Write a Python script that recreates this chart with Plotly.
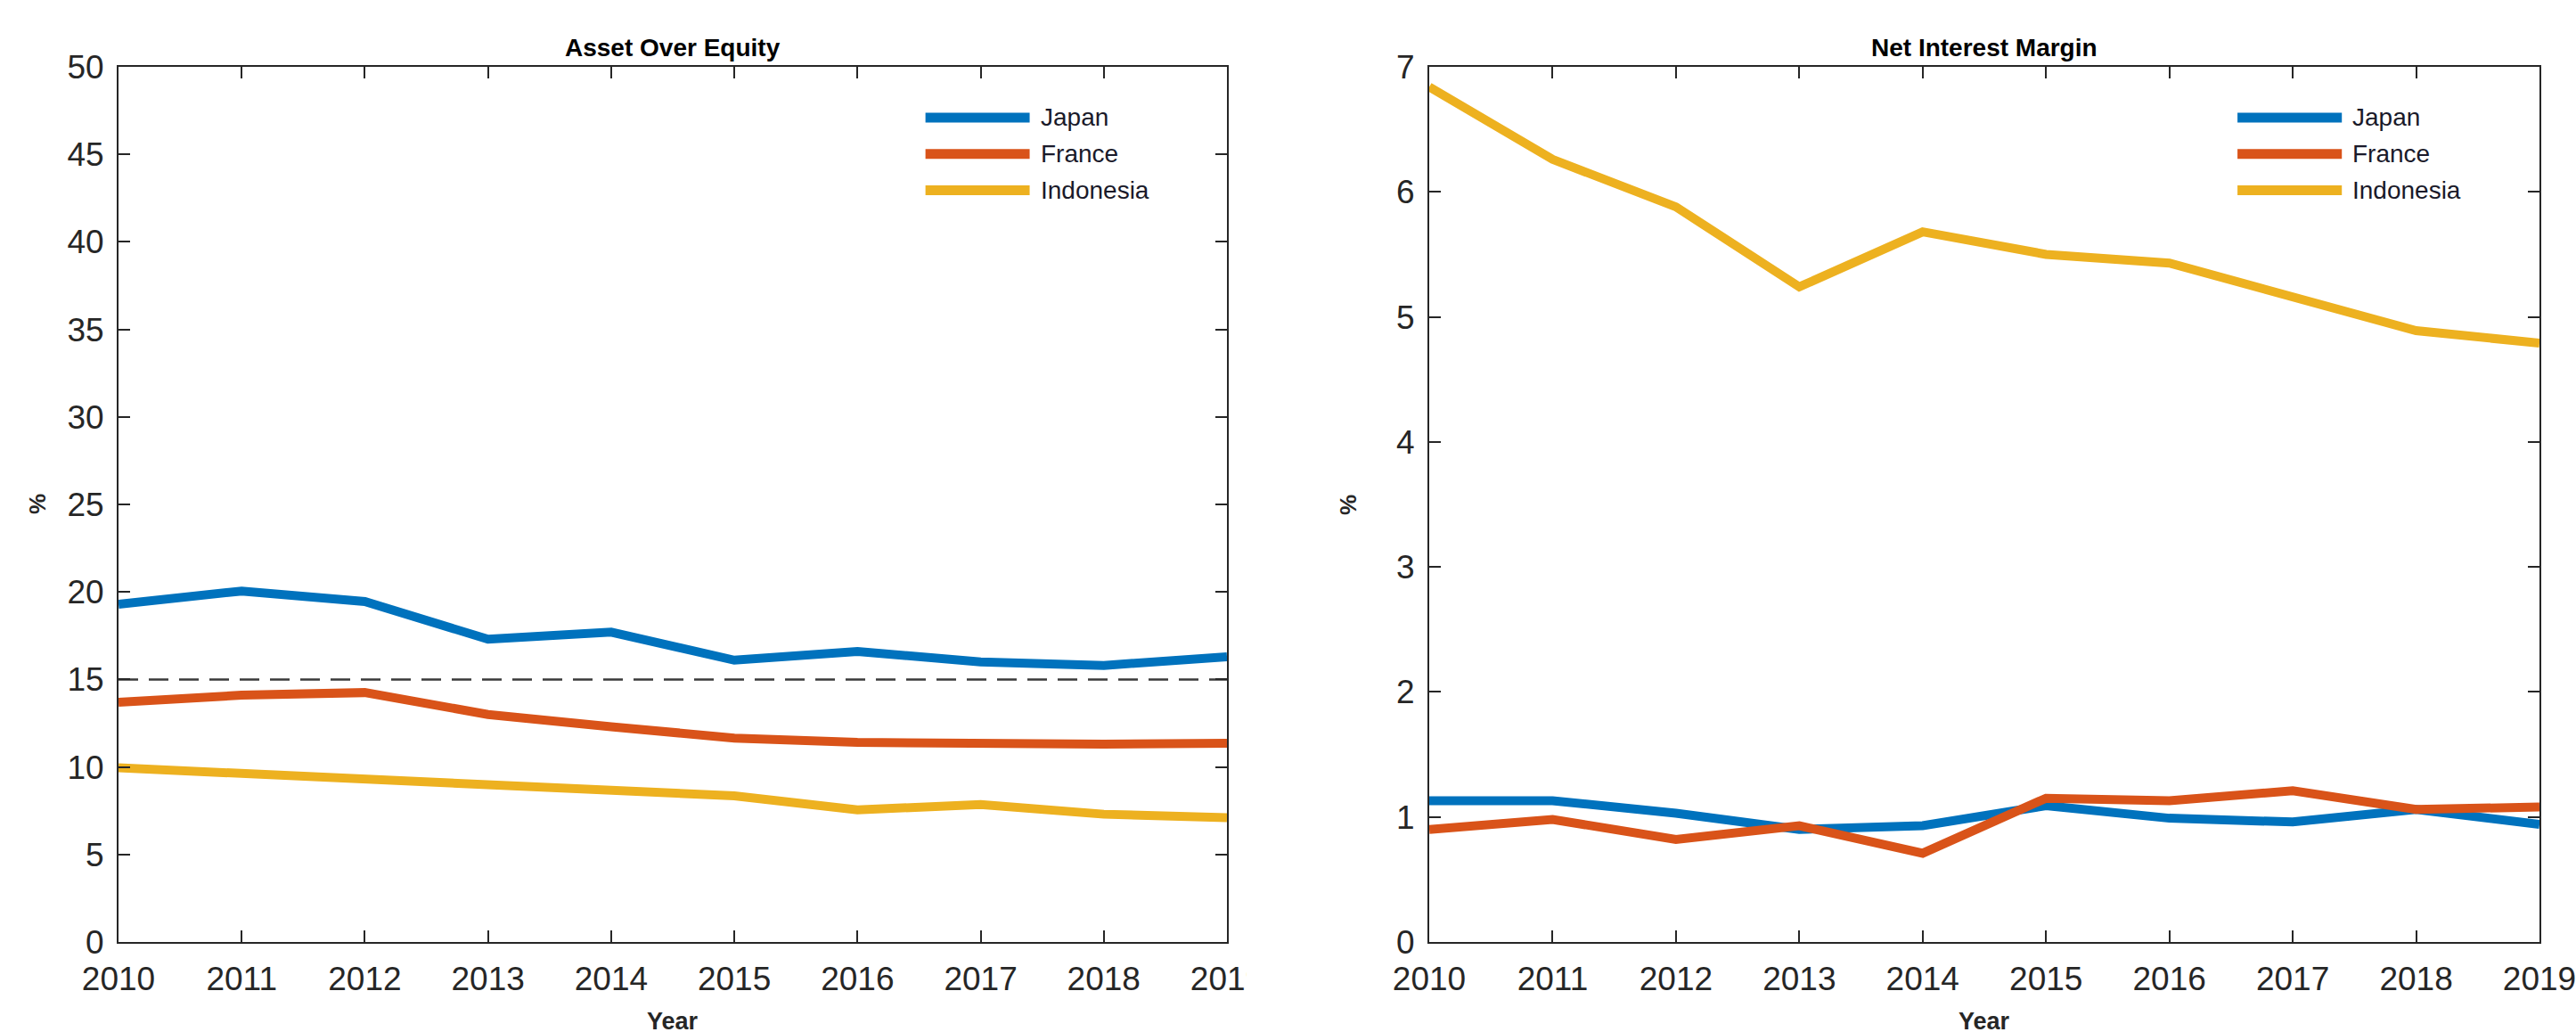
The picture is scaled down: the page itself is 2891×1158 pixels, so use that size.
import plotly.graph_objects as go

# ---- data -------------------------------------------------------------
years = [2010, 2011, 2012, 2013, 2014, 2015, 2016, 2017, 2018, 2019]
countries = ["Japan", "France", "Indonesia"]
colors = ["#0072BD", "#D95319", "#EDB120"]

# Asset over equity (%)
aoe_japan = [19.3, 20.05, 19.45, 17.3, 17.7, 16.1, 16.6, 16.0, 15.8, 16.3]
aoe_france = [13.7, 14.1, 14.25, 13.0, 12.3, 11.65, 11.4, 11.3, 11.3, 11.35]
aoe_indonesia = [9.95, 9.65, 9.25, 9.0, 8.65, 8.35, 7.55, 7.85, 7.3, 7.1]
aoe_threshold = 15

# Net interest margin (%)
nim_japan = [1.13, 1.13, 1.03, 0.9, 0.93, 1.09, 0.99, 0.96, 1.06, 0.94]
nim_france = [0.9, 0.98, 0.82, 0.93, 0.71, 1.15, 1.13, 1.21, 1.06, 1.08]
nim_indonesia = [6.84, 6.26, 5.88, 5.24, 5.68, 5.5, 5.43, 5.16, 4.89, 4.79]

aoe_ticks = list(range(0, 51, 5))
nim_ticks = list(range(0, 8))

panel_titles = ["Asset Over Equity", "Net Interest Margin"]
x_label = "Year"
y_label = "%"

# ---- figure -------------------------------------------------------------
W, H = 2891, 1158
INK = "#262626"
FONT = "Liberation Sans, Arial, Helvetica, sans-serif"

fig = go.Figure()

aoe_series = [aoe_japan, aoe_france, aoe_indonesia]
nim_series = [nim_japan, nim_france, nim_indonesia]

for name, col, vals in zip(countries, colors, aoe_series):
    fig.add_trace(go.Scatter(x=years, y=vals, mode="lines", name=name,
                             line=dict(color=col, width=10),
                             xaxis="x", yaxis="y", showlegend=False))

fig.add_trace(go.Scatter(x=[years[0], years[-1]], y=[aoe_threshold, aoe_threshold],
                         mode="lines", line=dict(color="#3a3a3a", width=2.5, dash="22px,12px"),
                         xaxis="x", yaxis="y", showlegend=False))

for name, col, vals in zip(countries, colors, nim_series):
    fig.add_trace(go.Scatter(x=years, y=vals, mode="lines", name=name,
                             line=dict(color=col, width=10),
                             xaxis="x2", yaxis="y2", showlegend=False))

y_dom = [1 - 1057 / H, 1 - 75 / H]
x_doms = [[133 / W, 1377 / W], [1604 / W, 2850 / W]]

common_axis = dict(
    showline=True, linecolor=INK, linewidth=2, mirror="ticks",
    ticks="inside", ticklen=13, tickwidth=2, tickcolor=INK,
    showgrid=False, zeroline=False, automargin=False,
    ticklabeloverflow="allow",
    tickfont=dict(family=FONT, size=37, color=INK),
)
x_axis_extra = dict(ticklabelstandoff=8)
y_axis_extra = dict(ticklabelstandoff=7)

fig.update_layout(
    width=W, height=H,
    margin=dict(l=0, r=0, t=0, b=0, autoexpand=False),
    paper_bgcolor="white", plot_bgcolor="white",
    showlegend=False,
    xaxis=dict(domain=x_doms[0], range=[years[0], years[-1]], tickmode="array",
               tickvals=years, ticktext=[str(y) for y in years], anchor="y",
               **common_axis, **x_axis_extra),
    yaxis=dict(domain=y_dom, range=[0, 50], tickmode="array", tickvals=aoe_ticks,
               anchor="x", **common_axis, **y_axis_extra),
    xaxis2=dict(domain=x_doms[1], range=[years[0], years[-1]], tickmode="array",
                tickvals=years, ticktext=[str(y) for y in years], anchor="y2",
                **common_axis, **x_axis_extra),
    yaxis2=dict(domain=y_dom, range=[0, 7], tickmode="array", tickvals=nim_ticks,
                anchor="x2", **common_axis, **y_axis_extra),
)

shapes = []
annotations = []

# the left figure's canvas ends before the right figure begins
shapes.append(dict(type="rect", xref="paper", yref="paper", layer="above",
                   x0=1399 / W, x1=1545 / W, y0=0, y1=1,
                   fillcolor="white", line=dict(width=0)))

for i, (xd, title) in enumerate(zip(x_doms, panel_titles)):
    sfx = "" if i == 0 else "2"
    xr, yr = f"x{sfx} domain", f"y{sfx} domain"

    annotations.append(dict(text=f"<b>{title}</b>", xref=xr, yref=yr, x=0.5, y=1,
                            xanchor="center", yanchor="bottom", yshift=4,
                            showarrow=False, font=dict(family=FONT, size=28, color="black")))
    annotations.append(dict(text=f"<b>{x_label}</b>", xref=xr, yref="paper", x=0.5,
                            y=1 - 1146 / H, xanchor="center", yanchor="middle",
                            showarrow=False, font=dict(family=FONT, size=27, color=INK)))
    annotations.append(dict(text=f"<b>{y_label}</b>", xref="paper", yref=yr,
                            x=(xd[0] * W - 91) / W, y=0.5, textangle=-90,
                            xanchor="center", yanchor="middle",
                            showarrow=False, font=dict(family=FONT, size=26, color=INK)))

    # legend: long line swatches with labels
    for j, (name, col) in enumerate(zip(countries, colors)):
        ly = 0.942 - j * 0.0415
        shapes.append(dict(type="line", xref=xr, yref=yr, x0=0.728, x1=0.822,
                           y0=ly, y1=ly, line=dict(color=col, width=11)))
        annotations.append(dict(text=name, xref=xr, yref=yr, x=0.830, y=ly,
                                xanchor="left", yanchor="middle", showarrow=False,
                                font=dict(family=FONT, size=28, color="#1a1a2a")))

fig.update_layout(shapes=shapes, annotations=annotations)

fig.write_html("out.html")
